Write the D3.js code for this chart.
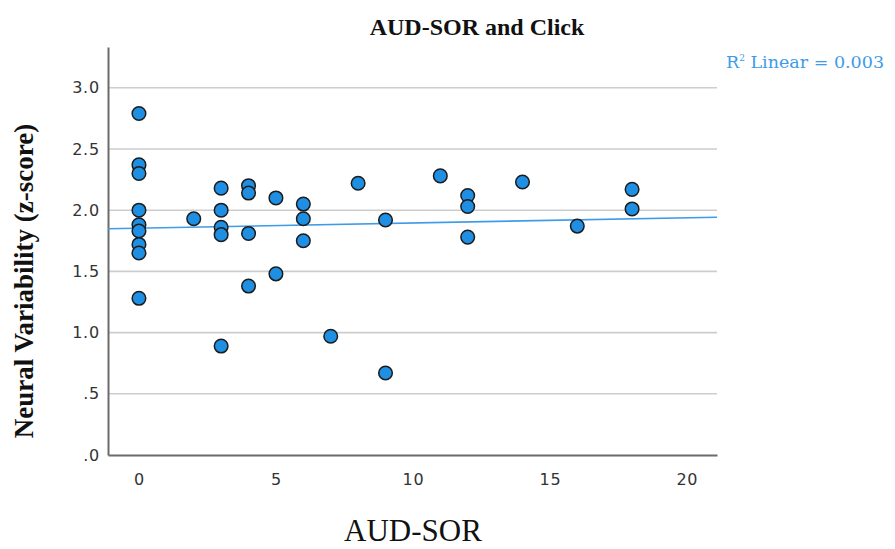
<!DOCTYPE html>
<html>
<head>
<meta charset="utf-8">
<script src="https://cdn.jsdelivr.net/npm/d3@7"></script>
<style>
  html, body { margin: 0; padding: 0; background: #fff; }
  svg { display: block; }
</style>
</head>
<body>
<svg id="chart" width="895" height="549"></svg>
<script>
// AUD-SOR score per participant
const audSor = [
  0, 0, 0, 0, 0, 0, 0, 0, 0,
  2,
  3, 3, 3, 3, 3,
  4, 4, 4, 4,
  5, 5,
  6, 6, 6,
  7,
  8,
  9, 9,
  11,
  12, 12, 12,
  14,
  16,
  18, 18
];
// Neural variability (z-score) for the click stimulus
const neuralVar = [
  2.79, 2.37, 2.30, 2.00, 1.88, 1.83, 1.72, 1.65, 1.28,
  1.93,
  2.18, 2.00, 1.86, 1.80, 0.89,
  2.20, 2.14, 1.81, 1.38,
  2.10, 1.48,
  2.05, 1.93, 1.75,
  0.97,
  2.22,
  1.92, 0.67,
  2.28,
  2.12, 2.03, 1.78,
  2.23,
  1.87,
  2.17, 2.01
];
const xTicks = [0, 5, 10, 15, 20];
const yTicks = [0, 0.5, 1.0, 1.5, 2.0, 2.5, 3.0];
const yTickLabels = [".0", ".5", "1.0", "1.5", "2.0", "2.5", "3.0"];
const chartTitle = "AUD-SOR and Click";
const xTitle = "AUD-SOR";
const yTitle = "Neural Variability (z-score)";
const fitLabel = "Linear = 0.003";

const svg = d3.select("#chart");
const plotLeft = 108, plotRight = 717, plotTop = 47, plotBottom = 455;

const x = d3.scaleLinear().domain([-1.13, 21.1]).range([plotLeft, plotRight]);
const y = d3.scaleLinear().domain([0, 3.333]).range([plotBottom, plotTop]);

const points = audSor.map((v, i) => ({ x: v, y: neuralVar[i] }));

// horizontal gridlines
svg.append("g")
  .selectAll("line")
  .data(yTicks.filter(t => t > 0))
  .join("line")
  .attr("x1", plotLeft).attr("x2", plotRight)
  .attr("y1", d => y(d)).attr("y2", d => y(d))
  .attr("stroke", "#cdcdcd")
  .attr("stroke-width", 1.6);

// y axis
const yAxis = d3.axisLeft(y)
  .tickValues(yTicks)
  .tickSize(0)
  .tickPadding(8)
  .tickFormat((d, i) => yTickLabels[i]);
const gy = svg.append("g").attr("transform", `translate(${plotLeft},0)`).call(yAxis);
gy.select(".domain").attr("stroke", "#6b6b6b").attr("stroke-width", 2);
gy.selectAll("text")
  .attr("font-family", "DejaVu Sans, sans-serif")
  .attr("font-size", 16)
  .attr("fill", "#333")
  .attr("letter-spacing", 0.8);

// x axis
const xAxis = d3.axisBottom(x)
  .tickValues(xTicks)
  .tickSize(0)
  .tickPadding(19)
  .tickFormat(d3.format("d"));
const gx = svg.append("g").attr("transform", `translate(0,${plotBottom})`).call(xAxis);
gx.select(".domain").attr("stroke", "#6b6b6b").attr("stroke-width", 2);
gx.selectAll("text")
  .attr("font-family", "DejaVu Sans, sans-serif")
  .attr("font-size", 16)
  .attr("fill", "#333")
  .attr("letter-spacing", 0.8);

// least-squares fit line
const mx = d3.mean(points, d => d.x), my = d3.mean(points, d => d.y);
const sxy = d3.sum(points, d => (d.x - mx) * (d.y - my));
const sxx = d3.sum(points, d => (d.x - mx) ** 2);
const slope = sxy / sxx, intercept = my - slope * mx;
const [x0, x1] = x.domain();
svg.append("line")
  .attr("x1", x(x0)).attr("y1", y(intercept + slope * x0))
  .attr("x2", x(x1)).attr("y2", y(intercept + slope * x1))
  .attr("stroke", "#3d9be8")
  .attr("stroke-width", 1.6);

// scatter points
svg.append("g")
  .selectAll("circle")
  .data(points)
  .join("circle")
  .attr("cx", d => x(d.x))
  .attr("cy", d => y(d.y))
  .attr("r", 6.8)
  .attr("fill", "#1e8fe2")
  .attr("stroke", "#1c1c1c")
  .attr("stroke-width", 1.5);

// fit annotation
const ann = svg.append("text")
  .attr("x", 726).attr("y", 68)
  .attr("font-family", "DejaVu Serif, serif")
  .attr("font-size", 17.5)
  .attr("fill", "#3d9be8");
ann.append("tspan").text("R");
ann.append("tspan").attr("font-size", 9).attr("dy", -7).text("2");
ann.append("tspan").attr("dy", 7).text(" " + fitLabel);

// chart title
svg.append("text")
  .attr("x", 477).attr("y", 35)
  .attr("text-anchor", "middle")
  .attr("font-family", "Liberation Serif, serif")
  .attr("font-weight", "bold")
  .attr("font-size", 24)
  .attr("fill", "#111")
  .text(chartTitle);

// x axis title
svg.append("text")
  .attr("x", 413).attr("y", 541)
  .attr("text-anchor", "middle")
  .attr("font-family", "Liberation Serif, serif")
  .attr("font-size", 31)
  .attr("fill", "#111")
  .text(xTitle);

// y axis title
svg.append("text")
  .attr("transform", "translate(33,281) rotate(-90)")
  .attr("text-anchor", "middle")
  .attr("font-family", "Liberation Serif, serif")
  .attr("font-weight", "bold")
  .attr("font-size", 27)
  .attr("fill", "#111")
  .text(yTitle);
</script>
</body>
</html>
